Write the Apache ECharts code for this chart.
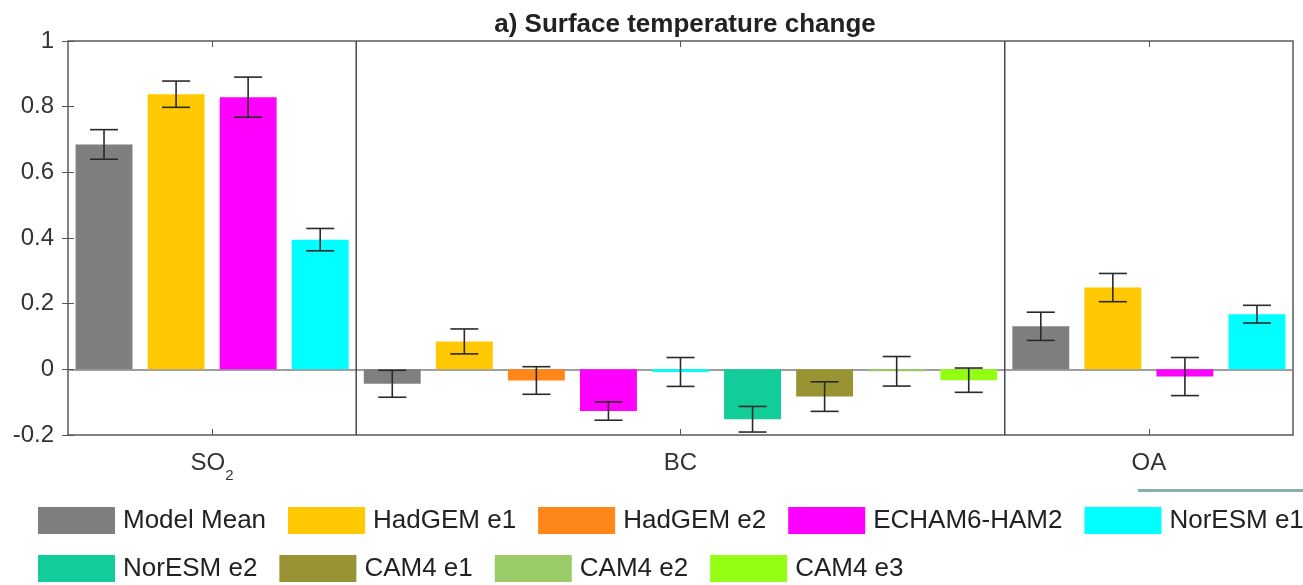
<!DOCTYPE html>
<html><head><meta charset="utf-8">
<script src="https://cdn.jsdelivr.net/npm/echarts@6/dist/echarts.min.js"></script>
<style>html,body{margin:0;padding:0;background:#fff}#c{width:1303px;height:585px}</style>
</head><body><div id="c"></div>
<script>
// ---- data ----
const groupNames = ['SO2', 'BC', 'OA'];
const so2Models = ['Model Mean', 'HadGEM e1', 'ECHAM6-HAM2', 'NorESM e1'];
const so2Values = [0.685, 0.838, 0.829, 0.395];
const so2Errors = [0.045, 0.040, 0.061, 0.034];
const bcModels = ['Model Mean', 'HadGEM e1', 'HadGEM e2', 'ECHAM6-HAM2', 'NorESM e1', 'NorESM e2', 'CAM4 e1', 'CAM4 e2', 'CAM4 e3'];
const bcValues = [-0.044, 0.085, -0.034, -0.127, -0.008, -0.152, -0.083, -0.006, -0.033];
const bcErrors = [0.041, 0.038, 0.042, 0.028, 0.044, 0.039, 0.045, 0.045, 0.037];
const oaModels = ['Model Mean', 'HadGEM e1', 'ECHAM6-HAM2', 'NorESM e1'];
const oaValues = [0.131, 0.249, -0.022, 0.168];
const oaErrors = [0.043, 0.043, 0.058, 0.027];
const legendRow1 = ['Model Mean', 'HadGEM e1', 'HadGEM e2', 'ECHAM6-HAM2', 'NorESM e1'];
const legendRow2 = ['NorESM e2', 'CAM4 e1', 'CAM4 e2', 'CAM4 e3'];
const yMin = -0.2, yMax = 1, yStep = 0.2;
const titleText = 'a) Surface temperature change';

// ---- styles ----
const modelColors = {
  'Model Mean': '#7f7f7f', 'HadGEM e1': '#ffc800', 'HadGEM e2': '#ff8619',
  'ECHAM6-HAM2': '#ff00ff', 'NorESM e1': '#00ffff', 'NorESM e2': '#12cc99',
  'CAM4 e1': '#999433', 'CAM4 e2': '#99cc66', 'CAM4 e3': '#94ff14'
};
const FONT = 'Liberation Sans';

// ---- build ----
const groups = [
  { name: groupNames[0], models: so2Models, values: so2Values, errors: so2Errors },
  { name: groupNames[1], models: bcModels, values: bcValues, errors: bcErrors },
  { name: groupNames[2], models: oaModels, values: oaValues, errors: oaErrors }
];
const slots = [];
groups.forEach(g => g.models.forEach((m, i) => slots.push({ group: g.name, model: m, value: g.values[i], err: g.errors[i] })));
const categories = slots.map(s => s.group + ' / ' + s.model);
const groupCenters = [], groupBounds = [];
let acc = 0;
groups.forEach((g, i) => {
  groupCenters.push(acc + g.models.length / 2);
  acc += g.models.length;
  if (i < groups.length - 1) groupBounds.push(acc);
});
const allModels = legendRow1.concat(legendRow2);

const barSeries = allModels.map(m => ({
  name: m, type: 'bar', stack: 'all', barWidth: '79%',
  xAxisIndex: 0, yAxisIndex: 0,
  itemStyle: { color: modelColors[m] },
  data: slots.map(s => s.model === m ? s.value : '-')
}));

const errSeries = {
  name: 'err', type: 'custom', xAxisIndex: 0, yAxisIndex: 0, z: 5,
  data: slots.map((s, i) => [i, s.value - s.err, s.value + s.err]),
  encode: { x: 0, y: [1, 2] },
  renderItem(params, api) {
    const x = api.value(0);
    const lo = api.coord([x, api.value(1)]);
    const hi = api.coord([x, api.value(2)]);
    const w = 14;
    const style = { stroke: '#2a2a2a', lineWidth: 1.6 };
    return { type: 'group', children: [
      { type: 'line', shape: { x1: lo[0], y1: lo[1], x2: hi[0], y2: hi[1] }, style },
      { type: 'line', shape: { x1: lo[0] - w, y1: lo[1], x2: lo[0] + w, y2: lo[1] }, style },
      { type: 'line', shape: { x1: hi[0] - w, y1: hi[1], x2: hi[0] + w, y2: hi[1] }, style }
    ]};
  }
};

const sepSeries = {
  name: 'sep', type: 'custom', xAxisIndex: 1, yAxisIndex: 0, z: 4,
  data: groupBounds.map(b => [b]),
  encode: { x: 0 },
  renderItem(params, api) {
    const cs = params.coordSys;
    const x = api.coord([api.value(0), 0])[0];
    return { type: 'line', shape: { x1: x, y1: cs.y, x2: x, y2: cs.y + cs.height },
      style: { stroke: '#4a4a4a', lineWidth: 1.5 } };
  }
};

const groupLabel = v => {
  const i = groupCenters.findIndex(c => Math.abs(c - v) < 1e-6);
  if (i < 0) return '';
  const n = groupNames[i];
  if (n === 'SO2') return '{b|SO}{s|2}';
  return '{b|' + n + '}';
};

const legendCommon = {
  left: 38, width: 1600, padding: 0, itemWidth: 77, itemHeight: 27, itemGap: 22, icon: 'rect',
  selectedMode: false,
  textStyle: { fontSize: 26, color: '#222', fontFamily: FONT, padding: [0, 0, 0, 3] }
};

const chart = echarts.init(document.getElementById('c'));
chart.setOption({
  animation: false,
  backgroundColor: '#fff',
  textStyle: { fontFamily: FONT },
  title: { text: titleText, left: 680, top: 7, textAlign: 'center',
    textStyle: { fontSize: 26, fontWeight: 'bold', color: '#222', fontFamily: FONT } },
  legend: [
    Object.assign({ data: legendRow1, top: 507 }, legendCommon),
    Object.assign({ data: legendRow2, top: 555 }, legendCommon)
  ],
  grid: { left: 68, right: 10, top: 41, bottom: 150, show: true,
    borderColor: '#5a5a5a', borderWidth: 1.5, backgroundColor: 'transparent' },
  xAxis: [
    { type: 'category', data: categories, boundaryGap: true, position: 'bottom',
      axisLine: { show: true, onZero: true, lineStyle: { color: '#808080', width: 1.5 } },
      axisTick: { show: false }, axisLabel: { show: false }, splitLine: { show: false } },
    { type: 'value', min: 0, max: slots.length, position: 'bottom',
      axisLine: { show: false, onZero: false },
      axisTick: { show: true, inside: true, length: 6, customValues: groupCenters, lineStyle: { color: '#555' } },
      axisLabel: { show: true, customValues: groupCenters, formatter: groupLabel, margin: 16,
        rich: {
          b: { fontSize: 24, color: '#333', fontFamily: FONT, verticalAlign: 'bottom', padding: [0, 0, 8, 0] },
          s: { fontSize: 15, color: '#333', fontFamily: FONT, verticalAlign: 'bottom' }
        } },
      splitLine: { show: false } },
    { type: 'value', min: 0, max: slots.length, position: 'top',
      axisLine: { show: false, onZero: false },
      axisTick: { show: true, inside: true, length: 6, customValues: groupCenters, lineStyle: { color: '#555' } },
      axisLabel: { show: false }, splitLine: { show: false } }
  ],
  yAxis: [
    { type: 'value', min: yMin, max: yMax, interval: yStep, position: 'left',
      axisLine: { show: false }, axisTick: { show: true, inside: true, length: 6, lineStyle: { color: '#555' } },
      axisLabel: { fontSize: 24, color: '#333', margin: 14, fontFamily: FONT },
      splitLine: { show: false } },
    { type: 'value', min: yMin, max: yMax, interval: yStep, position: 'right',
      axisLine: { show: false }, axisTick: { show: true, inside: true, length: 6, lineStyle: { color: '#555' } },
      axisLabel: { show: false }, splitLine: { show: false } }
  ],
  graphic: [
    { type: 'rect', shape: { x: 1138, y: 489, width: 165, height: 3 }, style: { fill: '#86aeab' } }
  ],
  series: barSeries.concat([errSeries, sepSeries])
});
</script>
</body></html>
